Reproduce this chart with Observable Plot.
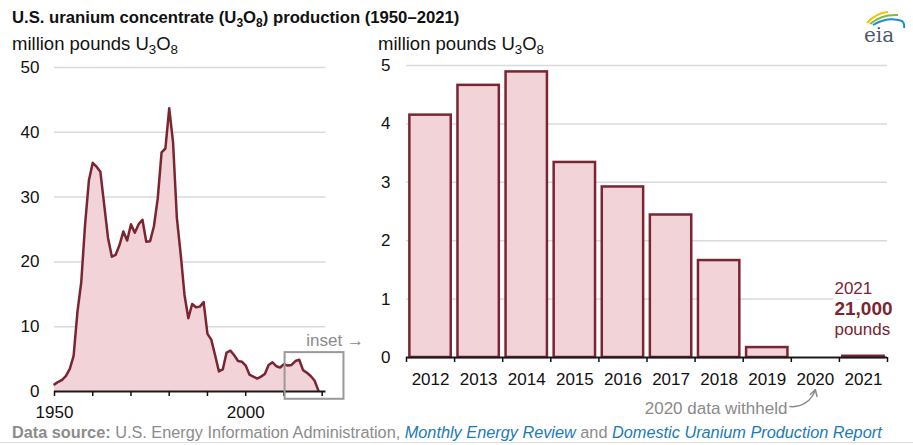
<!DOCTYPE html>
<html><head><meta charset="utf-8">
<script src="https://cdn.jsdelivr.net/npm/d3@7"></script>
<script src="https://cdn.jsdelivr.net/npm/@observablehq/plot@0.6"></script>
<style>
body{margin:0;background:#fff;font-family:"Liberation Sans",Arial,sans-serif;}
#wrap{position:relative;width:913px;height:445px;overflow:hidden;background:#fff;}
.abs{position:absolute;white-space:nowrap;line-height:1;}
.sb{font-size:72%;position:relative;top:0.32em;}
#title{left:12px;top:10px;font-weight:bold;font-size:16.7px;color:#111;}
.ylab{top:35px;font-size:18.5px;color:#111;}
#foot{left:12px;top:424px;font-size:16.3px;color:#8c8c8c;}
#foot i{color:#1a7ab8;}
#rule{left:0;top:442px;width:913px;height:0;border-top:1.5px solid #ddd;}
#left,#right{position:absolute;top:50px;}
#left{left:0;} #right{left:360px;}
</style></head>
<body>
<div id="wrap">
  <div id="title" class="abs">U.S. uranium concentrate (U<span class="sb">3</span>O<span class="sb">8</span>) production (1950–2021)</div>
  <div class="abs ylab" style="left:12px">million pounds U<span class="sb">3</span>O<span class="sb">8</span></div>
  <div class="abs ylab" style="left:378px">million pounds U<span class="sb">3</span>O<span class="sb">8</span></div>
  <div id="left"></div>
  <div id="right"></div>
  <div id="foot" class="abs"><b>Data source:</b> U.S. Energy Information Administration, <i>Monthly Energy Review</i> and <i>Domestic Uranium Production Report</i></div>
  <div id="rule" class="abs"></div>
  <svg class="abs" style="left:858px;top:6px" width="52" height="42" viewBox="0 0 52 42">
    <path d="M9 17 Q18 7 30 6" fill="none" stroke="#f2c400" stroke-width="2"/>
    <path d="M12 18 Q24 8 40 9" fill="none" stroke="#7dbb42" stroke-width="2"/>
    <path d="M15 19 Q30 10 44 15 Q47 18 46 22" fill="none" stroke="#1a8fd0" stroke-width="2"/>
    <text x="6" y="36" font-family="DejaVu Serif, serif" font-size="20" fill="#4b5a68">eia</text>
  </svg>
</div>
<script>
const maroon = "#7a2532";
const pink = "#f2d3d8";
const grid = "#dadada";
const font = "'Liberation Sans', Arial, sans-serif";

// Long-run series, 1950–2019 (million pounds U3O8)
const longYears = [1950,1951,1952,1953,1954,1955,1956,1957,1958,1959,
  1960,1961,1962,1963,1964,1965,1966,1967,1968,1969,
  1970,1971,1972,1973,1974,1975,1976,1977,1978,1979,
  1980,1981,1982,1983,1984,1985,1986,1987,1988,1989,
  1990,1991,1992,1993,1994,1995,1996,1997,1998,1999,
  2000,2001,2002,2003,2004,2005,2006,2007,2008,2009,
  2010,2011,2012,2013,2014,2015,2016,2017,2018,2019];
const longValues = [1.1,1.5,1.8,2.4,3.5,5.5,12.3,16.9,25.8,32.6,
  35.3,34.7,33.9,28.8,23.7,20.8,21.1,22.6,24.7,23.3,
  25.8,24.5,25.8,26.5,23.1,23.2,25.5,29.8,36.9,37.5,
  43.7,38.5,26.8,21.2,14.9,11.3,13.5,13.0,13.1,13.8,
  8.9,8.0,5.6,3.1,3.4,6.0,6.3,5.6,4.7,4.6,
  4.0,2.6,2.3,2.0,2.3,2.7,4.1,4.5,3.9,3.7,
  4.2,4.0,4.1,4.7,4.9,3.3,2.9,2.4,1.7,0.17];
const longXTicks = [1950,1960,1970,1980,1990,2000,2010,2020];
const longXLabels = [1950, 2000];
const longYTicks = [0,10,20,30,40,50];
const insetYears = [2012, 2021];
const insetValueRange = [-1.2, 6.0];

// Inset series, 2012–2021 (million pounds U3O8); 2020 withheld
const insetYearsAll = [2012,2013,2014,2015,2016,2017,2018,2019,2020,2021];
const insetValues = [4.15,4.66,4.89,3.34,2.92,2.44,1.66,0.17,null,0.021];
const insetYTicks = [0,1,2,3,4,5];
const note2021 = ["2021", "21,000", "pounds"];
const withheldNote = "2020 data withheld";

const longData = longYears.map((year, i) => ({year, value: longValues[i]}));
const barData = insetYearsAll.map((year, i) => ({year, value: insetValues[i]})).filter(d => d.value != null);
const boundaries = [...insetYearsAll.map(y => y - 0.5), insetYearsAll[insetYearsAll.length - 1] + 0.5];
const box = [{x1: insetYears[0] - 1.7, x2: insetYears[1] + 4.7, y1: insetValueRange[0], y2: insetValueRange[1]}];

const common = {fontFamily: font, fontSize: "17px", background: "transparent", overflow: "visible", color: "#111"};

const left = Plot.plot({
  width: 370, height: 372,
  marginLeft: 54, marginRight: 44.5, marginTop: 17, marginBottom: 31,
  style: common,
  x: {domain: [1950, 2021]},
  y: {domain: [0, 50]},
  marks: [
    Plot.gridY({ticks: longYTicks.filter(d => d > 0), stroke: grid, strokeOpacity: 1, strokeWidth: 1.5}),
    Plot.areaY(longData, {x: "year", y: "value", fill: pink}),
    Plot.lineY(longData, {x: "year", y: "value", stroke: maroon, strokeWidth: 2.5}),
    Plot.ruleY([0], {stroke: "#1a1a1a", strokeWidth: 2}),
    Plot.axisY({ticks: longYTicks, tickSize: 0, tickPadding: 15, label: null, tickFormat: d => String(d)}),
    Plot.axisX({ticks: longXTicks, tickSize: 5, tickPadding: 9, label: null, strokeWidth: 1.5,
      tickFormat: d => longXLabels.includes(d) ? String(d) : ""}),
    Plot.rect(box, {x1: "x1", x2: "x2", y1: "y1", y2: "y2", stroke: "#999", strokeWidth: 2, fill: "none"}),
    Plot.text(box, {x: "x2", y: "y2", text: () => "inset →", textAnchor: "end", dx: 20, dy: -12, fill: "#8a8a8a"})
  ]
});
document.getElementById("left").append(left);

const right = Plot.plot({
  width: 553, height: 372,
  marginLeft: 46, marginRight: 26, marginTop: 15, marginBottom: 65,
  style: common,
  x: {domain: [boundaries[0], boundaries[boundaries.length - 1]]},
  y: {domain: [0, 5]},
  marks: [
    Plot.gridY({ticks: insetYTicks.filter(d => d > 0), stroke: grid, strokeOpacity: 1, strokeWidth: 1.5}),
    Plot.rect(barData, {x1: d => d.year - 0.43, x2: d => d.year + 0.43, y1: () => 0, y2: "value",
      fill: pink, stroke: maroon, strokeWidth: 2.5}),
    Plot.ruleY([0], {stroke: "#1a1a1a", strokeWidth: 2}),
    Plot.axisY({ticks: insetYTicks, tickSize: 0, tickPadding: 16, label: null, tickFormat: d => String(d)}),
    Plot.axisX({ticks: boundaries, tickSize: 5, label: null, strokeWidth: 1.5, tickFormat: () => ""}),
    Plot.axisX({ticks: insetYearsAll, tickSize: 0, tickPadding: 15, label: null, tickFormat: d => String(d)}),
    Plot.text([barData[barData.length - 1]], {x: "year", y: "value", text: () => note2021[0], textAnchor: "start", lineAnchor: "bottom",
      dx: -29, dy: -62, fill: maroon, stroke: "white", strokeWidth: 10}),
    Plot.text([barData[barData.length - 1]], {x: "year", y: "value", text: () => note2021[1], textAnchor: "start", lineAnchor: "bottom",
      dx: -29, dy: -41, fill: maroon, fontWeight: "bold", fontSize: 19, stroke: "white", strokeWidth: 10}),
    Plot.text([barData[barData.length - 1]], {x: "year", y: "value", text: () => note2021[2], textAnchor: "start", lineAnchor: "bottom",
      dx: -29, dy: -21, fill: maroon, stroke: "white", strokeWidth: 8}),
    Plot.text([{year: 2019.42, value: -0.87}], {x: "year", y: "value", text: () => withheldNote, textAnchor: "end", fill: "#8a8a8a"}),
    Plot.arrow([{x1: 2019.47, y1: -0.84, x2: 2020, y2: -0.55}], {x1: "x1", y1: "y1", x2: "x2", y2: "y2",
      bend: -40, stroke: "#8a8a8a", strokeWidth: 1.5, headLength: 7})
  ]
});
document.getElementById("right").append(right);
</script>
</body></html>
